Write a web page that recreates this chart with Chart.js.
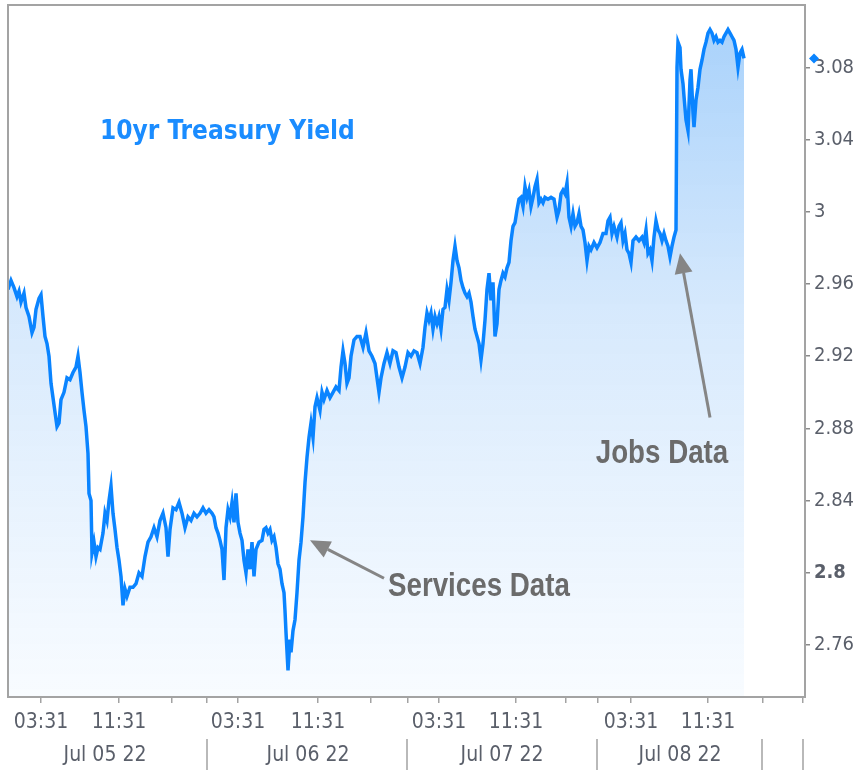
<!DOCTYPE html>
<html>
<head>
<meta charset="utf-8">
<title>10yr Treasury Yield</title>
<script src="https://cdn.jsdelivr.net/npm/chart.js@4.4.1/dist/chart.umd.min.js"></script>
<style>
  body { margin: 0; background: #fff; }
  #wrap { width: 866px; height: 770px; }
</style>
</head>
<body>
<div id="wrap"><canvas id="yieldChart" width="866" height="770"></canvas></div>
<script>
// session bar number (about 6 min per bar) and 10yr yield
const bars = [
  0, 3, 6, 9, 11, 13, 16, 18, 21, 24,
  26, 28, 31, 33, 35, 37, 39, 41, 43, 45,
  47, 49, 51, 53, 56, 59, 62, 65, 68, 70,
  72, 74, 76, 78, 80, 81, 83, 84, 86, 88,
  90, 92, 95, 97, 99, 101, 103, 105, 107, 109,
  111, 113, 115, 117, 119, 122, 125, 128, 131, 134,
  137, 140, 143, 146, 149, 152, 155, 158, 160, 162,
  165, 168, 171, 174, 177, 180, 183, 186, 189, 192,
  195, 198, 201, 204, 206, 208, 210, 212, 214, 216,
  218, 220, 222, 224, 226, 228, 230, 232, 234, 236,
  238, 240, 242, 244, 246, 248, 251, 254, 256, 258,
  260, 262, 264, 266, 268, 270, 272, 274, 276, 277,
  278, 280, 282, 283, 285, 287, 289, 291, 293, 295,
  297, 299, 301, 303, 305, 307, 309, 312, 314, 316,
  319, 322, 325, 328, 331, 333, 335, 337, 339, 341,
  343, 346, 349, 352, 355, 358, 361, 364, 367, 369,
  371, 373, 376, 379, 382, 385, 388, 391, 394, 397,
  400, 403, 406, 409, 412, 415, 417, 419, 421, 423,
  425, 427, 429, 431, 433, 435, 437, 439, 441, 443,
  445, 447, 449, 451, 453, 455, 457, 459, 461, 463,
  465, 467, 469, 471, 473, 475, 477, 479, 481, 483,
  485, 487, 489, 491, 493, 495, 497, 499, 501, 503,
  505, 507, 509, 511, 513, 515, 517, 519, 521, 523,
  525, 527, 529, 531, 533, 535, 537, 540, 543, 546,
  549, 551, 553, 555, 557, 559, 561, 563, 565, 567,
  569, 571, 573, 575, 577, 579, 581, 583, 586, 589,
  592, 595, 598, 600, 602, 604, 606, 609, 611, 613,
  615, 617, 619, 621, 623, 625, 628, 631, 634, 636,
  638, 640, 642, 644, 646, 648, 650, 652, 654, 656,
  658, 660, 662, 664, 666, 668, 669, 670, 672, 673,
  675, 676, 678, 680, 682, 683, 685, 686, 688, 690,
  692, 694, 696, 698, 700, 702, 704, 706, 708, 710,
  712, 714, 716, 718, 720, 722, 724, 726, 728, 730,
  732, 734, 736
];
const yields = [
  2.957, 2.962, 2.958, 2.953, 2.956, 2.950, 2.955, 2.947, 2.942, 2.933,
  2.936, 2.946, 2.952, 2.954, 2.942, 2.931, 2.927, 2.920, 2.905, 2.897,
  2.889, 2.881, 2.883, 2.896, 2.900, 2.908, 2.907, 2.911, 2.914, 2.920,
  2.911, 2.900, 2.890, 2.881, 2.866, 2.844, 2.840, 2.811, 2.817, 2.809,
  2.814, 2.813, 2.822, 2.833, 2.829, 2.840, 2.848, 2.833, 2.824, 2.814,
  2.807, 2.798, 2.782, 2.791, 2.787, 2.792, 2.792, 2.794, 2.800, 2.798,
  2.809, 2.817, 2.820, 2.825, 2.820, 2.829, 2.833, 2.825, 2.809, 2.824,
  2.836, 2.835, 2.839, 2.833, 2.825, 2.831, 2.829, 2.833, 2.831, 2.833,
  2.836, 2.833, 2.835, 2.833, 2.831, 2.825, 2.822, 2.818, 2.813, 2.796,
  2.825, 2.835, 2.831, 2.839, 2.828, 2.844, 2.828, 2.822, 2.818, 2.807,
  2.800, 2.813, 2.802, 2.817, 2.798, 2.813, 2.817, 2.818, 2.824, 2.825,
  2.822, 2.824, 2.818, 2.820, 2.814, 2.805, 2.802, 2.794, 2.789, 2.779,
  2.767, 2.746, 2.763, 2.756, 2.768, 2.774, 2.789, 2.807, 2.817, 2.831,
  2.850, 2.864, 2.875, 2.883, 2.875, 2.892, 2.897, 2.890, 2.900, 2.896,
  2.901, 2.897, 2.900, 2.903, 2.901, 2.914, 2.923, 2.916, 2.905, 2.908,
  2.920, 2.929, 2.931, 2.931, 2.925, 2.933, 2.923, 2.920, 2.916, 2.908,
  2.900, 2.908, 2.916, 2.922, 2.916, 2.923, 2.922, 2.914, 2.908, 2.914,
  2.922, 2.920, 2.923, 2.922, 2.916, 2.925, 2.936, 2.944, 2.940, 2.944,
  2.935, 2.942, 2.938, 2.942, 2.935, 2.946, 2.947, 2.957, 2.951, 2.961,
  2.973, 2.981, 2.973, 2.969, 2.962, 2.958, 2.955, 2.953, 2.955, 2.950,
  2.942, 2.935, 2.931, 2.927, 2.918, 2.927, 2.940, 2.957, 2.966, 2.951,
  2.961, 2.931, 2.938, 2.957, 2.962, 2.966, 2.964, 2.969, 2.972, 2.984,
  2.992, 2.994, 3.001, 3.007, 3.008, 3.003, 3.014, 3.008, 3.012, 3.003,
  3.008, 3.014, 3.018, 3.005, 3.007, 3.005, 3.008, 3.007, 3.008, 3.007,
  2.997, 3.001, 3.010, 3.012, 3.010, 3.016, 2.997, 2.992, 2.999, 2.992,
  2.994, 2.999, 2.992, 2.990, 2.983, 2.973, 2.981, 2.979, 2.983, 2.980,
  2.983, 2.988, 2.988, 2.995, 2.997, 2.988, 2.992, 2.986, 2.992, 2.994,
  2.984, 2.988, 2.979, 2.977, 2.972, 2.984, 2.986, 2.984, 2.986, 2.983,
  2.990, 2.977, 2.979, 2.973, 2.986, 2.995, 2.990, 2.988, 2.984, 2.988,
  2.984, 2.981, 2.975, 2.981, 2.986, 2.990, 3.080, 3.094, 3.091, 3.079,
  3.071, 3.064, 3.051, 3.045, 3.073, 3.079, 3.055, 3.047, 3.062, 3.069,
  3.079, 3.084, 3.090, 3.094, 3.099, 3.101, 3.099, 3.095, 3.097, 3.094,
  3.095, 3.094, 3.097, 3.099, 3.101, 3.099, 3.097, 3.095, 3.090, 3.080,
  3.088, 3.090, 3.085
];

const yTicks = [2.76, 2.8, 2.84, 2.88, 2.92, 2.96, 3, 3.04, 3.08];
const timeTicks = [33, 111, 164, 199, 230, 310, 363, 400, 431, 508, 558, 590, 623, 700, 755, 795];
const timeLabels = ['03:31', '11:31', '', '', '03:31', '11:31', '', '', '03:31', '11:31', '', '', '03:31', '11:31', '', ''];
const dayCenters = [97, 300, 494, 672];
const dayLabels = ['Jul 05 22', 'Jul 06 22', 'Jul 07 22', 'Jul 08 22'];
const daySeps = [199, 399, 589, 754, 795];

// annotations, anchored in data units
const notes = [
  { text: 'Services Data', tip: [302, 2.818], tail: [376, 2.797], at: [380, 2.792], align: 'left' },
  { text: 'Jobs Data', tip: [672, 2.977], tail: [702, 2.886], at: [654, 2.866], align: 'center' }
];
const title = { text: '10yr Treasury Yield', at: [92, 3.044] };

const lineBlue = '#0a84ff';
const noteGray = '#6b6b6b';
const tickFont = '"DejaVu Sans Condensed", "DejaVu Sans", sans-serif';

function drawArrow(ctx, x1, y1, x2, y2) {
  const ang = Math.atan2(y2 - y1, x2 - x1);
  const head = 20, half = 9;
  const bx = x2 - head * Math.cos(ang), by = y2 - head * Math.sin(ang);
  ctx.beginPath();
  ctx.moveTo(x1, y1);
  ctx.lineTo(bx, by);
  ctx.stroke();
  ctx.beginPath();
  ctx.moveTo(x2, y2);
  ctx.lineTo(bx + half * Math.sin(ang), by - half * Math.cos(ang));
  ctx.lineTo(bx - half * Math.sin(ang), by + half * Math.cos(ang));
  ctx.closePath();
  ctx.fill();
}

// narrow bold text, squeezed sideways like the original's condensed face
function narrowText(ctx, text, x, y, align) {
  const squeeze = 0.84;
  ctx.save();
  ctx.translate(x, y);
  ctx.scale(squeeze, 1);
  ctx.textAlign = align;
  ctx.fillText(text, 0, 0);
  ctx.restore();
}

const extras = {
  id: 'extras',
  afterDraw(chart) {
    const { ctx, chartArea: a, scales } = chart;
    const x = scales.x, y = scales.y, x2 = scales.x2;
    ctx.save();

    // plot frame
    ctx.strokeStyle = '#a3a3a3';
    ctx.lineWidth = 2;
    ctx.strokeRect(a.left, a.top, a.right - a.left, a.bottom - a.top);

    // day separators on the date row
    ctx.lineWidth = 1.5;
    ctx.beginPath();
    daySeps.forEach(v => {
      const px = Math.round(x2.getPixelForValue(v));
      ctx.moveTo(px, x2.top + 2);
      ctx.lineTo(px, x2.bottom);
    });
    ctx.stroke();

    // last value marker on the axis
    const lastY = y.getPixelForValue(yields[yields.length - 1]);
    const mx = a.right + 9;
    ctx.fillStyle = lineBlue;
    ctx.beginPath();
    ctx.moveTo(mx, lastY - 5);
    ctx.lineTo(mx + 5, lastY);
    ctx.lineTo(mx, lastY + 5);
    ctx.lineTo(mx - 5, lastY);
    ctx.closePath();
    ctx.fill();

    // title
    ctx.fillStyle = '#1a8cff';
    ctx.font = 'bold 26px "DejaVu Sans Condensed", "DejaVu Sans", sans-serif';
    ctx.textAlign = 'left';
    ctx.textBaseline = 'middle';
    ctx.fillText(title.text, x.getPixelForValue(title.at[0]), y.getPixelForValue(title.at[1]));

    // arrows and notes
    ctx.strokeStyle = '#858585';
    ctx.fillStyle = '#858585';
    ctx.lineWidth = 3;
    notes.forEach(n => {
      drawArrow(ctx,
        x.getPixelForValue(n.tail[0]), y.getPixelForValue(n.tail[1]),
        x.getPixelForValue(n.tip[0]), y.getPixelForValue(n.tip[1]));
    });
    ctx.fillStyle = noteGray;
    ctx.font = 'bold 33px "Liberation Sans", Arial, sans-serif';
    notes.forEach(n => {
      narrowText(ctx, n.text, x.getPixelForValue(n.at[0]), y.getPixelForValue(n.at[1]), n.align);
    });
    ctx.restore();
  }
};

const ctx = document.getElementById('yieldChart').getContext('2d');
new Chart(ctx, {
  type: 'line',
  data: {
    datasets: [{
      label: '10yr Treasury Yield',
      data: bars.map((b, i) => ({ x: b, y: yields[i] })),
      borderColor: lineBlue,
      borderWidth: 3.5,
      pointRadius: 0,
      tension: 0,
      fill: 'start',
      backgroundColor: (c) => {
        const a = c.chart.chartArea;
        if (!a) return 'rgba(170,210,250,0.5)';
        const g = c.chart.ctx.createLinearGradient(0, a.top, 0, a.bottom);
        g.addColorStop(0, 'rgba(150,200,250,0.85)');
        g.addColorStop(0.45, 'rgba(205,228,252,0.8)');
        g.addColorStop(1, 'rgba(245,250,255,0.7)');
        return g;
      }
    }]
  },
  options: {
    responsive: false,
    animation: false,
    layout: { padding: { left: 8, top: 5, right: 0, bottom: 0 } },
    plugins: { legend: { display: false }, tooltip: { enabled: false } },
    scales: {
      x: {
        type: 'linear',
        position: 'bottom',
        min: 0,
        max: 797,
        afterBuildTicks: s => { s.ticks = timeTicks.map(v => ({ value: v })); },
        afterFit: s => { s.height = 40; s.paddingLeft = 0; s.paddingRight = 0; },
        border: { display: false },
        grid: { drawOnChartArea: false, drawTicks: true, tickLength: 6, color: '#a3a3a3', lineWidth: 1.5 },
        ticks: {
          autoSkip: false,
          maxRotation: 0,
          padding: 7,
          color: '#5a5f6a',
          font: { family: tickFont, size: 21 },
          callback: (v, i) => timeLabels[i]
        }
      },
      x2: {
        type: 'linear',
        position: 'bottom',
        min: 0,
        max: 797,
        afterBuildTicks: s => { s.ticks = dayCenters.map(v => ({ value: v })); },
        afterFit: s => { s.height = 33; s.paddingLeft = 0; s.paddingRight = 0; },
        border: { display: false },
        grid: { display: false, drawTicks: false },
        ticks: {
          autoSkip: false,
          maxRotation: 0,
          padding: 6,
          color: '#5a5f6a',
          font: { family: tickFont, size: 21 },
          callback: (v, i) => dayLabels[i]
        }
      },
      y: {
        type: 'linear',
        position: 'right',
        min: 2.7312,
        max: 3.1146,
        afterBuildTicks: s => { s.ticks = yTicks.map(v => ({ value: v })); },
        afterFit: s => { s.width = 61; s.paddingTop = 0; s.paddingBottom = 0; },
        border: { display: false },
        grid: { drawOnChartArea: false, drawTicks: true, tickLength: 5, color: '#8a8a8a', lineWidth: 1.5 },
        ticks: {
          padding: 4,
          color: '#5a5f6a',
          font: c => ({
            family: tickFont,
            size: 20,
            weight: c.tick && c.tick.value === 2.8 ? 'bold' : 'normal'
          }),
          callback: v => String(v)
        }
      }
    }
  },
  plugins: [extras]
});
</script>
</body>
</html>
